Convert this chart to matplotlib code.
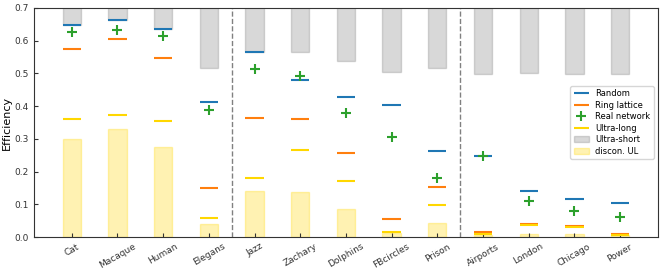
import matplotlib
matplotlib.use("Agg")
import matplotlib.pyplot as plt
import numpy as np

# networks, in plot order
names = ['Cat', 'Macaque', 'Human', 'Elegans', 'Jazz', 'Zachary', 'Dolphins',
         'FBcircles', 'Prison', 'Airports', 'London', 'Chicago', 'Power']

# efficiency values
random_eff = [0.648, 0.663, 0.636, 0.412, 0.566, 0.481, 0.427, 0.402, 0.263, 0.247, 0.140, 0.115, 0.104]
ring_eff = [0.575, 0.606, 0.547, 0.150, 0.365, 0.361, 0.257, 0.055, 0.152, 0.015, 0.041, 0.033, 0.008]
real_eff = [0.628, 0.633, 0.614, 0.388, 0.512, 0.492, 0.379, 0.306, 0.179, 0.247, 0.109, 0.079, 0.062]
ul_eff = [0.361, 0.372, 0.355, 0.058, 0.179, 0.265, 0.172, 0.016, 0.098, 0.008, 0.036, 0.031, 0.006]
us_eff = [0.648, 0.663, 0.636, 0.516, 0.566, 0.566, 0.539, 0.503, 0.517, 0.499, 0.501, 0.499, 0.497]
discon_ul = [0.300, 0.331, 0.275, 0.040, 0.141, 0.139, 0.085, 0.013, 0.042, 0.006, 0.009, 0.008, 0.005]

x = np.arange(len(names))
w = 0.4

fig = plt.figure(figsize=(6.64, 2.74), dpi=100)
ax = fig.add_axes([0.051, 0.135, 0.94, 0.836])

ax.bar(x, 1 - np.array(us_eff), bottom=us_eff, width=w, color='grey', alpha=0.3,
       edgecolor='grey', lw=1, label='Ultra-short')
ax.bar(x, discon_ul, width=w, color='gold', alpha=0.3, edgecolor='gold', lw=1,
       label='discon. UL')

ax.hlines(random_eff, x - w/2, x + w/2, color='tab:blue', lw=1.5, label='Random')
ax.hlines(ring_eff, x - w/2, x + w/2, color='tab:orange', lw=1.5, label='Ring lattice')
ax.plot(x, real_eff, '+', color='tab:green', ms=7, mew=1.5, ls='none', label='Real network')
ax.hlines(ul_eff, x - w/2, x + w/2, color='gold', lw=1.5, label='Ultra-long')

# group separators
ax.axvline(3.5, color='grey', ls='--', lw=1)
ax.axvline(8.5, color='grey', ls='--', lw=1)

ax.set_xlim(-0.83, 12.83)
ax.set_ylim(0, 0.7)
ax.set_xticks(x)
ax.set_xticklabels(names, rotation=30, fontsize=6.5)
ax.tick_params(axis='both', direction='in', labelsize=6.5, length=3, colors='#333333')
for s in ax.spines.values():
    s.set_color('#333333')
ax.set_ylabel('Efficiency', fontsize=8, labelpad=2)

h, l = ax.get_legend_handles_labels()
order = ['Random', 'Ring lattice', 'Real network', 'Ultra-long', 'Ultra-short', 'discon. UL']
hh = [h[l.index(o)] for o in order]
ax.legend(hh, order, loc='center right', fontsize=6,
          handlelength=1.8, labelspacing=0.3, borderpad=0.4)

fig.savefig('out.png', dpi=100)
